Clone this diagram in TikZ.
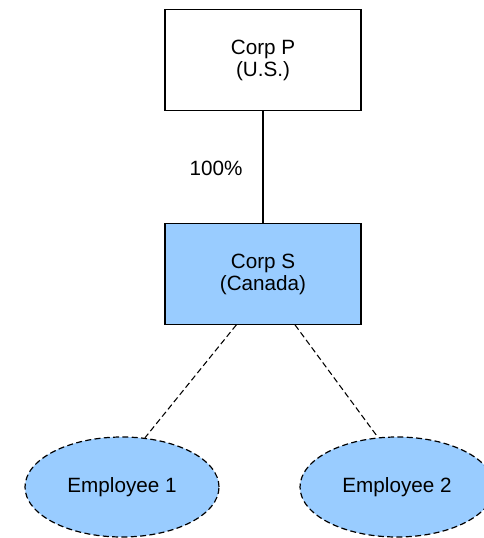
\documentclass[tikz,border=0pt]{standalone}
\usepackage{fontspec}
\setmainfont{Liberation Sans}
\usetikzlibrary{shapes.geometric}
\definecolor{entityblue}{RGB}{153,204,255}

\tikzset{
	corpbox/.style={draw, line width=0.8pt, minimum width=147pt, minimum height=75.5pt, align=center, font=\fontsize{15.5}{16.5}\selectfont},
	empoval/.style={ellipse, draw, dash pattern=on 4.5pt off 2.5pt, line width=0.9pt, fill=entityblue, minimum width=145.5pt, minimum height=75pt, font=\fontsize{15.5}{16.5}\selectfont},
	owned/.style={line width=0.8pt},
	employed/.style={line width=0.8pt, dash pattern=on 4.5pt off 2.5pt}
}

\begin{document}
\begin{tikzpicture}[x=0.75pt, y=-0.75pt]
	%%%%% START %%%%%
	\useasboundingbox (0, 0) rectangle (484, 538);
	
	\node[corpbox] (corpP) at (263, 60) {Corp P\\(U.S.)};
	\node[corpbox, fill=entityblue] (corpS) at (263, 274) {Corp S\\(Canada)};
	
	\draw[owned] (corpP.south) -- (corpS.north);
	\node[font=\fontsize{15.5}{16.5}\selectfont] (share) at (216, 168) {100\%};
	
	\node[empoval] (emp1) at (122, 487) {Employee 1};
	\node[empoval] (emp2) at (397, 487) {Employee 2};
	
	\draw[employed] ([xshift=-20pt]corpS.south) -- (emp1.65);
	\draw[employed] ([xshift=24pt]corpS.south) -- (emp2.111);
	%%%%% END %%%%%
\end{tikzpicture}
\end{document}
